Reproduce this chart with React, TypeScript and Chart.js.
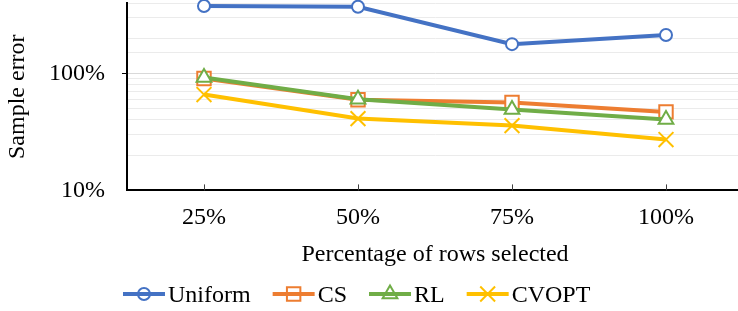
import React, { useEffect, useRef } from 'react';
import { Chart, registerables } from 'chart.js';
import { drawPoint } from 'chart.js/helpers';

Chart.register(...registerables);

// ---- data ----
const categories = ['25%', '50%', '75%', '100%'];
const seriesNames = ['Uniform', 'CS', 'RL', 'CVOPT'];
const uniform = [377, 372, 178, 213];
const cs = [90.6, 59.6, 56.4, 46.9];
const rl = [92.4, 60.2, 49.2, 40.4];
const cvopt = [66, 41.1, 35.8, 27.2];
const yMin = 10;
const yMax = 400;
const yLabeledTicks = [10, 100];
const xTitle = 'Percentage of rows selected';
const yTitle = 'Sample error';

// ---- styles ----
const seriesData = [uniform, cs, rl, cvopt];
const colors = ['#4472C4', '#ED7D31', '#70AD47', '#FFC000'];
const pointStyles = ['circle', 'rect', 'triangle', 'crossRot'];
const pointRadii = [6, 9.5, 8.5, 10.5];
const FONT = "'Liberation Serif', 'Times New Roman', serif";
const FONT_SIZE = 24;

const isLabeled = (v: number) => yLabeledTicks.some((t) => Math.abs(t - v) < 1e-6);

const inwardTicks = {
  id: 'inwardTicks',
  beforeDatasetsDraw(chart: any) {
    const xs = chart.scales.x;
    const ctx = chart.ctx;
    const bottom = chart.chartArea.bottom;
    ctx.save();
    ctx.strokeStyle = '#404040';
    ctx.lineWidth = 1;
    xs.ticks.forEach((_t: any, i: number) => {
      const px = Math.round(xs.getPixelForTick(i)) + 0.5;
      ctx.beginPath();
      ctx.moveTo(px, bottom);
      ctx.lineTo(px, bottom - 6);
      ctx.stroke();
    });
    ctx.restore();
  },
};

const customLegend = {
  id: 'customLegend',
  afterDraw(chart: any) {
    const ctx = chart.ctx;
    const lineLen = 42;
    const textGap = 45;
    const itemGap = 22;
    const yLine = chart.height - 17;
    const yText = chart.height - 9.5;
    let x = chart.chartArea.left - 4;
    ctx.save();
    ctx.font = `${FONT_SIZE}px ${FONT}`;
    ctx.textBaseline = 'alphabetic';
    ctx.textAlign = 'left';
    chart.data.datasets.forEach((ds: any) => {
      ctx.strokeStyle = ds.borderColor;
      ctx.lineWidth = 4;
      ctx.beginPath();
      ctx.moveTo(x, yLine);
      ctx.lineTo(x + lineLen, yLine);
      ctx.stroke();
      ctx.lineWidth = 2;
      ctx.fillStyle = 'rgba(0,0,0,0)';
      drawPoint(ctx, { pointStyle: ds.pointStyle, radius: ds.pointRadius, borderWidth: 2, rotation: 0 } as any, x + lineLen / 2, yLine);
      ctx.fillStyle = '#000';
      ctx.fillText(ds.label, x + textGap, yText);
      x += textGap + ctx.measureText(ds.label).width + itemGap;
    });
    ctx.restore();
  },
};

export default function App() {
  const ref = useRef<HTMLCanvasElement | null>(null);

  useEffect(() => {
    if (!ref.current) return;
    const chart = new Chart(ref.current, {
      type: 'line',
      data: {
        labels: categories,
        datasets: seriesNames.map((name, i) => ({
          label: name,
          data: seriesData[i],
          borderColor: colors[i],
          backgroundColor: '#fff',
          borderWidth: 4,
          pointStyle: pointStyles[i] as any,
          pointRadius: pointRadii[i],
          pointHoverRadius: pointRadii[i],
          pointBorderWidth: 2,
          pointBackgroundColor: '#fff',
          pointBorderColor: colors[i],
          order: seriesNames.length - i,
          clip: false as any,
          tension: 0,
        })),
      },
      options: {
        animation: false,
        responsive: false,
        maintainAspectRatio: false,
        layout: { autoPadding: false, padding: { top: 3, right: 0, bottom: 42, left: 0 } },
        plugins: {
          legend: { display: false },
          tooltip: { enabled: false },
        },
        scales: {
          x: {
            type: 'category',
            offset: true,
            grid: { display: false, drawTicks: false },
            border: { display: true, color: '#000', width: 2 },
            ticks: { color: '#000', font: { family: FONT, size: FONT_SIZE }, padding: 13, maxRotation: 0 },
            title: {
              display: true,
              text: xTitle,
              color: '#000',
              font: { family: FONT, size: FONT_SIZE },
              padding: { top: -5, bottom: 0 },
            },
            afterFit: (s: any) => {
              s.paddingLeft = 0;
              s.paddingRight = 0;
            },
          },
          y: {
            type: 'logarithmic',
            min: yMin,
            max: yMax,
            border: { display: true, color: '#000', width: 2 },
            grid: {
              color: (c: any) => (c.tick && Math.abs(c.tick.value - 100) < 1e-6 ? '#d9d9d9' : '#ebebeb'),
              lineWidth: 1,
              drawTicks: true,
              tickLength: 5,
              tickColor: (c: any) => (c.tick && Math.abs(c.tick.value - 100) < 1e-6 ? '#000' : 'rgba(0,0,0,0)'),
            },
            ticks: {
              autoSkip: false,
              color: '#000',
              padding: 17,
              font: (c: any) => ({ family: FONT, size: !c.tick || isLabeled(c.tick.value) ? FONT_SIZE : 1 }),
              callback: (v: any) => (isLabeled(Number(v)) ? `${Math.round(Number(v))}%` : ''),
            },
            title: {
              display: true,
              text: yTitle,
              color: '#000',
              font: { family: FONT, size: FONT_SIZE },
              padding: { top: 3.2, bottom: 0 },
            },
            afterFit: (s: any) => {
              s.paddingTop = 0;
              s.paddingBottom = 0;
            },
          },
        },
      },
      plugins: [inwardTicks, customLegend],
    });
    return () => chart.destroy();
  }, []);

  return (
    <div style={{ position: 'fixed', left: 0, top: 0, width: 738, height: 311, overflow: 'hidden', background: '#fff' }}>
      <canvas ref={ref} width={743} height={311} style={{ display: 'block', width: 743, height: 311 }} />
    </div>
  );
}
